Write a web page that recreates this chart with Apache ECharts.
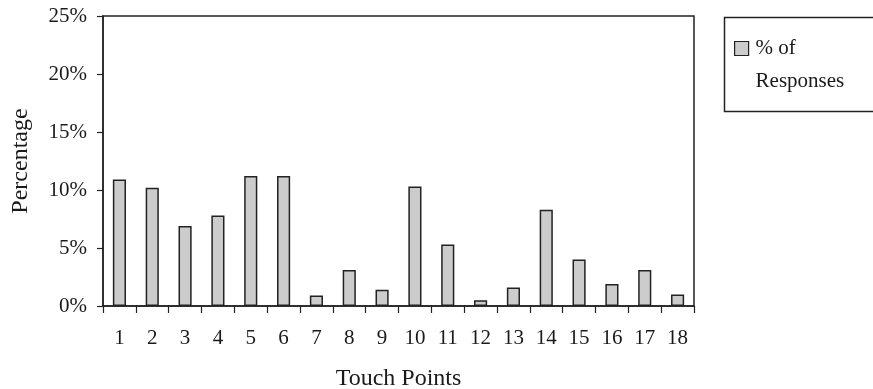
<!DOCTYPE html>
<html>
<head>
<meta charset="utf-8">
<script src="https://cdn.jsdelivr.net/npm/echarts@6/dist/echarts.min.js"></script>
<style>html,body{margin:0;padding:0;background:#fff}#c{width:873px;height:389px}</style>
</head>
<body>
<div id="c"></div>
<script>
const categories = ['1','2','3','4','5','6','7','8','9','10','11','12','13','14','15','16','17','18'];
const responses = [10.9, 10.2, 6.9, 7.8, 11.2, 11.2, 0.9, 3.1, 1.4, 10.3, 5.3, 0.5, 1.6, 8.3, 4.0, 1.9, 3.1, 1.0];
const yTicks = { min: 0, max: 25, interval: 5 };
const seriesName = '% of\nResponses';

const font = 'Liberation Serif, Times New Roman, serif';
const chart = echarts.init(document.getElementById('c'));
chart.setOption({
  animation: false,
  backgroundColor: '#fff',
  grid: { left: 103, right: 179, top: 16, bottom: 83, show: true, borderColor: '#222', borderWidth: 1.5, containLabel: false, outerBoundsMode: 'none' },
  xAxis: {
    type: 'category', data: categories,
    name: 'Touch Points', nameLocation: 'middle', nameGap: 61,
    nameTextStyle: { fontFamily: font, fontSize: 24, color: '#1a1a1a' },
    axisLine: { lineStyle: { color: '#222', width: 1.5 } },
    axisTick: { show: true, length: 7, interval: 0, lineStyle: { color: '#222', width: 1.2 } },
    axisLabel: { interval: 0, margin: 22, fontFamily: font, fontSize: 21, color: '#1a1a1a' }
  },
  yAxis: {
    type: 'value', min: yTicks.min, max: yTicks.max, interval: yTicks.interval,
    name: 'Percentage', nameLocation: 'middle', nameGap: 70, nameRotate: 90,
    nameTextStyle: { fontFamily: font, fontSize: 24, color: '#1a1a1a' },
    axisLine: { show: true, lineStyle: { color: '#222', width: 1.5 } },
    axisTick: { show: true, length: 6, lineStyle: { color: '#222', width: 1.2 } },
    splitLine: { show: false },
    axisLabel: { margin: 16, fontFamily: font, fontSize: 21, color: '#1a1a1a', formatter: '{value}%' }
  },
  legend: {
    left: 734, top: -1, padding: 0, orient: 'vertical',
    itemWidth: 14, itemHeight: 14, itemGap: 0,
    icon: 'rect',
    formatter: function (name) { return '\n' + name; },
    itemStyle: { color: '#cccccc', borderColor: '#222', borderWidth: 1.2 },
    textStyle: { fontFamily: font, fontSize: 21, color: '#1a1a1a', lineHeight: 33, padding: [0, 0, 0, 2] },
    data: [seriesName]
  },
  graphic: [{
    type: 'rect', left: 722, top: 15,
    shape: { width: 150, height: 94 },
    style: { fill: 'none', stroke: '#222', lineWidth: 1.5 }
  }],
  series: [{
    name: seriesName, type: 'bar', data: responses, barWidth: '40%',
    itemStyle: { color: '#cccccc', borderColor: '#222', borderWidth: 1.5 }
  }]
});
</script>
</body>
</html>
